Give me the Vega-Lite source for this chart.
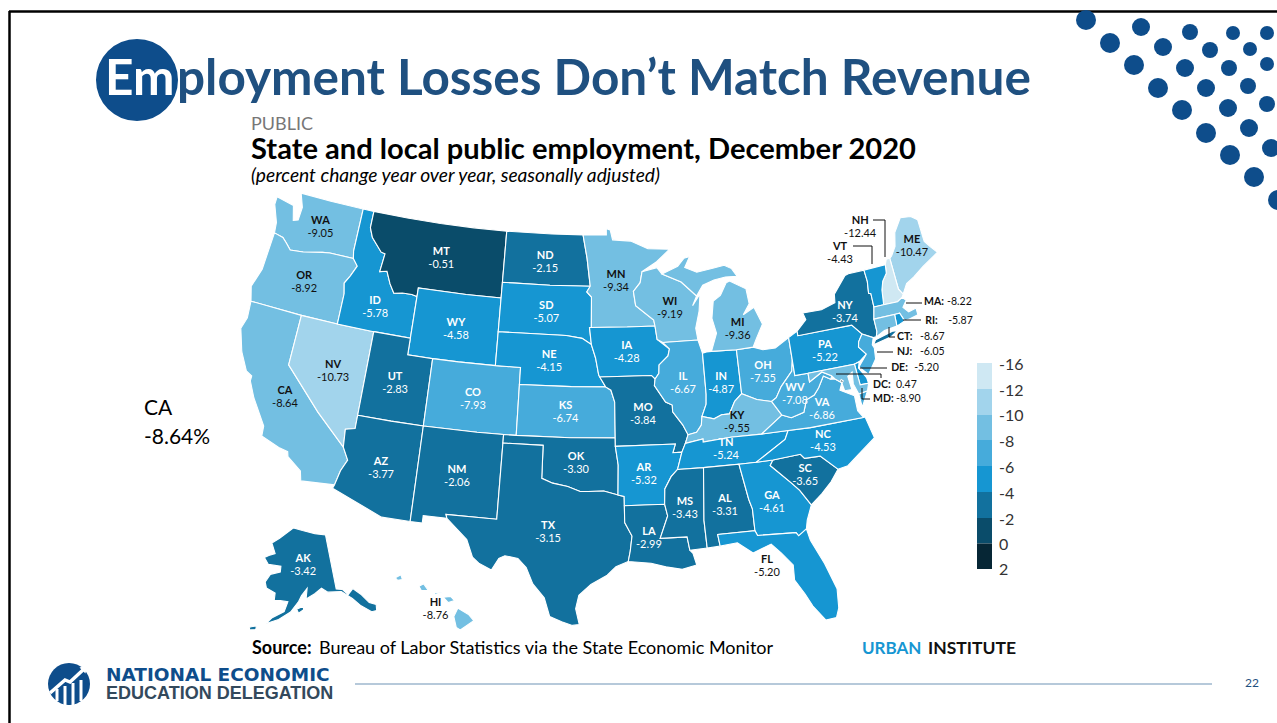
{
"$schema":"https://vega.github.io/schema/vega-lite/v6.json",
"width":1277,"height":723,"padding":0,"autosize":{"type":"none"},
"background":"#ffffff",
"config":{"view":{"stroke":null},"text":{"font":"Lato"}},
"projection":{"type":"albersUsa","scale":966,"translate":[589,409]},
"datasets":{
"states":[
{"state":"WA","value":-9.05,"lon":-120.3,"lat":47.3,"type":"Feature","geometry":{"type":"Polygon","coordinates":[[[-124.7,48.38],[-123.1,48.15],[-122.75,47.3],[-122.35,47.4],[-122.3,48.2],[-122.75,49],[-120,49],[-117.03,49],[-117.04,46.42],[-116.92,45.99],[-118.98,45.99],[-119.6,45.92],[-121.2,45.65],[-122.3,45.55],[-122.8,45.9],[-123.2,46.15],[-124,46.27],[-124.1,46.9],[-124.7,47.9],[-124.7,48.38]]]}},
{"state":"OR","value":-8.92,"lon":-120.45,"lat":43.9,"type":"Feature","geometry":{"type":"Polygon","coordinates":[[[-124,46.27],[-123.2,46.15],[-122.8,45.9],[-122.3,45.55],[-121.2,45.65],[-119.6,45.92],[-118.98,45.99],[-116.92,45.99],[-116.46,45.6],[-116.85,44.95],[-117.22,44.45],[-117.03,43.83],[-117.03,42],[-120,42],[-124.21,42],[-124.55,42.85],[-124.1,44],[-124,46.27]]]}},
{"state":"CA","value":-8.64,"lon":-119.66,"lat":37.1,"type":"Feature","geometry":{"type":"Polygon","coordinates":[[[-124.21,42],[-120,42],[-120,39],[-117,36.7],[-114.63,35],[-114.14,34.3],[-114.5,33.6],[-114.72,32.72],[-117.12,32.53],[-117.3,33.1],[-118.4,33.75],[-118.5,34.03],[-119.2,34.15],[-120.6,34.55],[-120.65,35.15],[-121.9,36.6],[-122.5,37.5],[-122.5,37.8],[-123,38],[-123.75,39],[-124.35,40.3],[-124.1,41],[-124.21,42]]]}},
{"state":"NV","value":-10.73,"lon":-116.54,"lat":39.2,"type":"Feature","geometry":{"type":"Polygon","coordinates":[[[-120,42],[-117.03,42],[-114.04,42],[-114.04,36.2],[-114.74,36.05],[-114.63,35],[-117,36.7],[-120,39],[-120,42]]]}},
{"state":"ID","value":-5.78,"lon":-114.3,"lat":43.4,"type":"Feature","geometry":{"type":"Polygon","coordinates":[[[-117.03,49],[-116.05,49],[-116.05,48],[-115.7,47.45],[-114.7,46.7],[-114.35,46.65],[-114.5,45.55],[-113.9,45.65],[-113.45,44.95],[-113,44.45],[-112.3,44.55],[-111.5,44.55],[-111.05,44.48],[-111.05,42],[-114.04,42],[-117.03,42],[-117.03,43.83],[-117.22,44.45],[-116.85,44.95],[-116.46,45.6],[-116.92,45.99],[-117.04,46.42],[-117.03,49]]]}},
{"state":"MT","value":-0.51,"lon":-109.5,"lat":46.95,"type":"Feature","geometry":{"type":"Polygon","coordinates":[[[-116.05,49],[-113,49],[-110,49],[-107,49],[-104.05,49],[-104.05,45.94],[-104.05,45],[-107,45],[-111.05,45],[-111.05,44.48],[-111.5,44.55],[-112.3,44.55],[-113,44.45],[-113.45,44.95],[-113.9,45.65],[-114.5,45.55],[-114.35,46.65],[-114.7,46.7],[-115.7,47.45],[-116.05,48],[-116.05,49]]]}},
{"state":"WY","value":-4.58,"lon":-107.5,"lat":42.9,"type":"Feature","geometry":{"type":"Polygon","coordinates":[[[-111.05,45],[-107,45],[-104.05,45],[-104.05,43],[-104.05,41],[-107,41],[-109.05,41],[-111.05,41],[-111.05,42],[-111.05,44.48],[-111.05,45]]]}},
{"state":"UT","value":-2.83,"lon":-111.66,"lat":39.2,"type":"Feature","geometry":{"type":"Polygon","coordinates":[[[-114.04,42],[-111.05,42],[-111.05,41],[-109.05,41],[-109.05,37],[-111.5,37],[-114.04,37],[-114.04,42]]]}},
{"state":"CO","value":-7.93,"lon":-105.55,"lat":38.9,"type":"Feature","geometry":{"type":"Polygon","coordinates":[[[-109.05,41],[-107,41],[-104.05,41],[-102.05,41],[-102.05,40],[-102.05,37],[-103,37],[-105,37],[-109.05,37],[-109.05,41]]]}},
{"state":"AZ","value":-3.77,"lon":-111.66,"lat":34.17,"type":"Feature","geometry":{"type":"Polygon","coordinates":[[[-114.04,37],[-111.5,37],[-109.05,37],[-109.05,31.33],[-111.07,31.33],[-114.81,32.5],[-114.72,32.72],[-114.5,33.6],[-114.14,34.3],[-114.63,35],[-114.74,36.05],[-114.04,36.2],[-114.04,37]]]}},
{"state":"NM","value":-2.06,"lon":-106.14,"lat":34.3,"type":"Feature","geometry":{"type":"Polygon","coordinates":[[[-109.05,37],[-105,37],[-103,37],[-103,36.5],[-103.04,32],[-106.62,32],[-106.53,31.78],[-108.2,31.78],[-108.2,31.33],[-109.05,31.33],[-109.05,37]]]}},
{"state":"ND","value":-2.15,"lon":-100.5,"lat":47.3,"type":"Feature","geometry":{"type":"Polygon","coordinates":[[[-104.05,49],[-100,49],[-97.23,49],[-96.85,47.6],[-96.56,45.94],[-100,45.94],[-104.05,45.94],[-104.05,49]]]}},
{"state":"SD","value":-5.07,"lon":-100.2,"lat":44.3,"type":"Feature","geometry":{"type":"Polygon","coordinates":[[[-104.05,45.94],[-100,45.94],[-96.56,45.94],[-96.85,45.6],[-96.45,45.3],[-96.45,43.5],[-96.6,43.5],[-96.44,42.49],[-97.2,42.85],[-98.5,43],[-104.05,43],[-104.05,45],[-104.05,45.94]]]}},
{"state":"NE","value":-4.15,"lon":-99.8,"lat":41.45,"type":"Feature","geometry":{"type":"Polygon","coordinates":[[[-104.05,43],[-98.5,43],[-97.2,42.85],[-96.44,42.49],[-96.1,41.7],[-95.85,40.7],[-95.31,40],[-98,40],[-102.05,40],[-102.05,41],[-104.05,41],[-104.05,43]]]}},
{"state":"KS","value":-6.74,"lon":-98.4,"lat":38.45,"type":"Feature","geometry":{"type":"Polygon","coordinates":[[[-102.05,40],[-98,40],[-95.31,40],[-94.9,39.8],[-94.62,39.1],[-94.62,37],[-98,37],[-102.05,37],[-102.05,40]]]}},
{"state":"OK","value":-3.30,"lon":-97.53,"lat":35.5,"type":"Feature","geometry":{"type":"Polygon","coordinates":[[[-103,37],[-102.05,37],[-98,37],[-94.62,37],[-94.62,36.5],[-94.43,35.4],[-94.48,33.64],[-95.5,33.88],[-96.6,33.85],[-97.2,33.85],[-98.1,34.13],[-99.2,34.3],[-100,34.56],[-100,36.5],[-103,36.5],[-103,37]]]}},
{"state":"TX","value":-3.15,"lon":-99.4,"lat":31.4,"type":"Feature","geometry":{"type":"Polygon","coordinates":[[[-103,36.5],[-100,36.5],[-100,34.56],[-99.2,34.3],[-98.1,34.13],[-97.2,33.85],[-96.6,33.85],[-95.5,33.88],[-94.48,33.64],[-94.04,33.55],[-94.04,33],[-94.04,32],[-93.55,31.2],[-93.7,30.3],[-93.85,29.7],[-94.7,29.4],[-95.3,28.9],[-96.4,28.35],[-97.2,27.7],[-97.4,26.9],[-97.15,25.96],[-97.6,25.9],[-98.3,26.1],[-99.1,26.4],[-99.5,27.5],[-100.3,28.3],[-100.8,29.25],[-101.4,29.77],[-102.3,29.88],[-102.7,29.7],[-103.15,28.98],[-104,29.3],[-104.5,29.65],[-105,30.65],[-106.53,31.78],[-106.62,32],[-103.04,32],[-103,36.5]]]}},
{"state":"MN","value":-9.34,"lon":-94.36,"lat":46.2,"type":"Feature","geometry":{"type":"Polygon","coordinates":[[[-97.23,49],[-95.15,49],[-95.15,49.38],[-94.8,49.3],[-94.6,48.7],[-93,48.6],[-91.5,48.1],[-89.6,48],[-90.8,47.3],[-92.1,46.75],[-92.3,46.1],[-92.9,45.6],[-92.75,44.75],[-91.3,43.85],[-91.22,43.5],[-93.5,43.5],[-96.45,43.5],[-96.45,45.3],[-96.85,45.6],[-96.56,45.94],[-96.85,47.6],[-97.23,49]]]}},
{"state":"IA","value":-4.28,"lon":-93.6,"lat":42.0,"type":"Feature","geometry":{"type":"Polygon","coordinates":[[[-96.6,43.5],[-93.5,43.5],[-91.22,43.5],[-91.1,42.7],[-90.15,42.1],[-90.3,41.7],[-91.05,41.2],[-91.1,40.7],[-91.42,40.38],[-91.7,40.6],[-95.77,40.58],[-95.85,40.7],[-96.1,41.7],[-96.44,42.49],[-96.6,43.5]]]}},
{"state":"MO","value":-3.84,"lon":-92.48,"lat":38.3,"type":"Feature","geometry":{"type":"Polygon","coordinates":[[[-95.77,40.58],[-91.7,40.6],[-91.42,40.38],[-91.5,40],[-90.7,39],[-90.2,38.8],[-90.2,38.4],[-89.5,37.6],[-89.15,37],[-89.4,36.5],[-89.7,36],[-90.37,36],[-90.15,36.5],[-94.62,36.5],[-94.62,37],[-94.62,39.1],[-94.9,39.8],[-95.31,40],[-95.77,40.58]]]}},
{"state":"AR","value":-5.32,"lon":-92.57,"lat":34.8,"type":"Feature","geometry":{"type":"Polygon","coordinates":[[[-94.62,36.5],[-90.15,36.5],[-90.37,36],[-89.7,36],[-90.1,35],[-90.6,34.6],[-91.1,33.9],[-91.17,33],[-94.04,33],[-94.04,33.55],[-94.48,33.64],[-94.43,35.4],[-94.62,36.5]]]}},
{"state":"LA","value":-2.99,"lon":-92.38,"lat":31.05,"type":"Feature","geometry":{"type":"Polygon","coordinates":[[[-94.04,33],[-91.17,33],[-91,32.3],[-91.6,31],[-89.73,31],[-89.6,30.2],[-89.4,30],[-89.2,29.3],[-90.2,29.1],[-91.3,29.3],[-92.3,29.55],[-93.85,29.7],[-93.7,30.3],[-93.55,31.2],[-94.04,32],[-94.04,33]]]}},
{"state":"WI","value":-9.19,"lon":-89.9,"lat":44.5,"type":"Feature","geometry":{"type":"Polygon","coordinates":[[[-92.1,46.75],[-90.8,46.95],[-90.4,46.55],[-88.8,46],[-87.6,45.1],[-88,44.55],[-87.3,45.2],[-87.5,44.2],[-87.9,43.2],[-87.8,42.5],[-90.65,42.5],[-91.1,42.7],[-91.22,43.5],[-91.3,43.85],[-92.75,44.75],[-92.9,45.6],[-92.3,46.1],[-92.1,46.75]]]}},
{"state":"IL","value":-6.67,"lon":-89.26,"lat":40.0,"type":"Feature","geometry":{"type":"Polygon","coordinates":[[[-90.65,42.5],[-87.8,42.5],[-87.53,41.7],[-87.53,39.3],[-87.6,38.7],[-88,38],[-88.1,37.5],[-88.5,37.1],[-89.15,37],[-89.5,37.6],[-90.2,38.4],[-90.2,38.8],[-90.7,39],[-91.5,40],[-91.42,40.38],[-91.1,40.7],[-91.05,41.2],[-90.3,41.7],[-90.15,42.1],[-90.65,42.5]]]}},
{"state":"IN","value":-4.87,"lon":-86.3,"lat":39.8,"type":"Feature","geometry":{"type":"Polygon","coordinates":[[[-87.53,41.7],[-87.2,41.76],[-86.8,41.76],[-84.8,41.7],[-84.8,39.1],[-85.4,38.7],[-85.9,38],[-86.5,38],[-87.1,37.8],[-88,38],[-87.6,38.7],[-87.53,39.3],[-87.53,41.7]]]}},
{"state":"OH","value":-7.55,"lon":-82.94,"lat":40.2,"type":"Feature","geometry":{"type":"Polygon","coordinates":[[[-84.8,41.7],[-83.45,41.73],[-82.7,41.5],[-81.7,41.5],[-80.52,41.98],[-80.52,40.64],[-80.7,40],[-81.7,39.2],[-82.2,38.6],[-82.6,38.42],[-83.7,38.65],[-84.8,39.1],[-84.8,41.7]]]}},
{"state":"MI","value":-9.36,"lon":-84.5,"lat":42.9,"type":"Feature","geometry":{"type":"MultiPolygon","coordinates":[[[[-86.25,44.7],[-85.6,45],[-85,45.7],[-84.7,45.78],[-83.4,45.2],[-83.3,44.3],[-83.9,43.7],[-82.95,44.05],[-82.45,43],[-83.1,42.2],[-83.45,41.73],[-84.8,41.7],[-86.8,41.76],[-86.25,42.8],[-86.5,43.7],[-86.25,44.7]]],[[[-90.4,46.55],[-89,46.95],[-88.4,47.4],[-87.9,47.47],[-88.4,46.85],[-87.4,46.5],[-86,46.65],[-85,46.75],[-84.4,46.5],[-84,46],[-85,46.05],[-86,45.95],[-87,45.7],[-87.6,45.1],[-88.8,46],[-90.4,46.55]]]]}},
{"state":"KY","value":-9.55,"lon":-85.4,"lat":37.46,"type":"Feature","geometry":{"type":"Polygon","coordinates":[[[-89.15,37],[-88.5,37.1],[-88.1,37.5],[-88,38],[-87.1,37.8],[-86.5,38],[-85.9,38],[-85.4,38.7],[-84.8,39.1],[-83.7,38.65],[-82.6,38.42],[-81.97,37.54],[-83.68,36.6],[-86,36.63],[-88.07,36.5],[-88.07,36.68],[-89.4,36.5],[-89.15,37]]]}},
{"state":"TN","value":-5.24,"lon":-86.43,"lat":35.96,"type":"Feature","geometry":{"type":"Polygon","coordinates":[[[-89.7,36],[-89.4,36.5],[-88.07,36.68],[-88.07,36.5],[-86,36.63],[-83.68,36.6],[-81.68,36.59],[-82,36.1],[-84.32,35],[-85.6,35],[-88.2,35],[-90.1,35],[-89.7,36]]]}},
{"state":"MS","value":-3.43,"lon":-89.75,"lat":32.7,"type":"Feature","geometry":{"type":"Polygon","coordinates":[[[-90.1,35],[-88.2,35],[-88.47,31.9],[-88.4,30.25],[-89.6,30.2],[-89.73,31],[-91.6,31],[-91,32.3],[-91.17,33],[-91.1,33.9],[-90.6,34.6],[-90.1,35]]]}},
{"state":"AL","value":-3.31,"lon":-86.9,"lat":32.68,"type":"Feature","geometry":{"type":"Polygon","coordinates":[[[-88.2,35],[-85.6,35],[-85.18,32.87],[-85,32.3],[-85,31],[-87.6,31],[-87.5,30.3],[-88.4,30.25],[-88.47,31.9],[-88.2,35]]]}},
{"state":"GA","value":-4.61,"lon":-83.57,"lat":32.55,"type":"Feature","geometry":{"type":"Polygon","coordinates":[[[-85.6,35],[-84.32,35],[-83.1,35],[-83.35,34.7],[-82,33.5],[-81.5,33],[-80.85,32.05],[-81.3,31.2],[-81.45,30.7],[-82.05,30.36],[-82.2,30.57],[-84.86,30.7],[-85,31],[-85,32.3],[-85.18,32.87],[-85.6,35]]]}},
{"state":"FL","value":-5.20,"lon":-84.47,"lat":28.83,"type":"Feature","geometry":{"type":"Polygon","coordinates":[[[-87.6,31],[-85,31],[-84.86,30.7],[-82.2,30.57],[-82.05,30.36],[-81.45,30.7],[-81.3,30],[-80.6,28.5],[-80.05,26.9],[-80.15,25.75],[-80.4,25.2],[-81.1,25.15],[-81.8,26.1],[-82.2,26.9],[-82.75,27.8],[-82.7,28.7],[-83.4,29.5],[-84,30.1],[-85.3,29.7],[-86.3,30.4],[-87.5,30.3],[-87.6,31]]]}},
{"state":"SC","value":-3.65,"lon":-80.95,"lat":33.85,"type":"Feature","geometry":{"type":"Polygon","coordinates":[[[-83.1,35],[-81.05,35.1],[-80.8,34.82],[-79.65,34.8],[-78.55,33.86],[-79.2,33.2],[-80,32.6],[-80.85,32.05],[-81.5,33],[-82,33.5],[-83.35,34.7],[-83.1,35]]]}},
{"state":"NC","value":-4.53,"lon":-79.26,"lat":35.64,"type":"Feature","geometry":{"type":"Polygon","coordinates":[[[-84.32,35],[-82,36.1],[-81.68,36.59],[-80,36.55],[-76,36.55],[-75.85,36.55],[-75.5,35.25],[-76.5,34.7],[-77.8,33.95],[-78.55,33.86],[-79.65,34.8],[-80.8,34.82],[-81.05,35.1],[-83.1,35],[-84.32,35]]]}},
{"state":"VA","value":-6.86,"lon":-78.91,"lat":37.5,"type":"Feature","geometry":{"type":"MultiPolygon","coordinates":[[[[-83.68,36.6],[-81.97,37.54],[-81.3,37.3],[-80.3,37.5],[-79.95,38.2],[-79.3,38.4],[-78.87,38.77],[-78.35,39.4],[-77.83,39.13],[-77.5,39.1],[-77.05,38.8],[-77.3,38.4],[-76.3,37.9],[-76.3,37],[-75.97,36.55],[-76,36.55],[-80,36.55],[-81.68,36.59],[-83.68,36.6]]],[[[-75.95,37.95],[-75.25,38.03],[-75.9,37.15],[-75.95,37.95]]]]}},
{"state":"WV","value":-7.08,"lon":-80.75,"lat":38.6,"type":"Feature","geometry":{"type":"Polygon","coordinates":[[[-82.6,38.42],[-82.2,38.6],[-81.7,39.2],[-80.7,40],[-80.52,40.64],[-80.52,39.72],[-79.48,39.72],[-79.48,39.2],[-78.4,39.65],[-77.72,39.32],[-77.83,39.13],[-78.35,39.4],[-78.87,38.77],[-79.3,38.4],[-79.95,38.2],[-80.3,37.5],[-81.3,37.3],[-81.97,37.54],[-82.6,38.42]]]}},
{"state":"PA","value":-5.22,"lon":-77.87,"lat":40.77,"type":"Feature","geometry":{"type":"Polygon","coordinates":[[[-80.52,41.98],[-79.76,42.27],[-79.76,42],[-75.35,42],[-74.7,41.36],[-75.1,40.95],[-75.2,40.65],[-74.72,40.15],[-75.4,39.8],[-75.8,39.72],[-79.48,39.72],[-80.52,39.72],[-80.52,40.64],[-80.52,41.98]]]}},
{"state":"NY","value":-3.74,"lon":-75.66,"lat":42.83,"type":"Feature","geometry":{"type":"MultiPolygon","coordinates":[[[[-79.76,42.27],[-78.9,42.85],[-79.05,43.27],[-77.5,43.25],[-76.3,43.5],[-76.2,44],[-75,44.95],[-74.7,45],[-73.35,45],[-73.3,44.3],[-73.43,43.6],[-73.25,43.55],[-73.27,42.74],[-73.5,42.05],[-73.5,41.3],[-73.65,41],[-73.9,41],[-74.7,41.36],[-75.35,42],[-79.76,42],[-79.76,42.27]]],[[[-74,40.58],[-73.75,40.85],[-72.3,41.1],[-71.9,41.05],[-72.5,40.8],[-74,40.58]]]]}},
{"state":"ME","value":-10.47,"lon":-68.93,"lat":45.6,"type":"Feature","geometry":{"type":"Polygon","coordinates":[[[-71,45.3],[-70.8,45.4],[-70.3,45.9],[-70,46.7],[-69.2,47.45],[-68.3,47.35],[-67.8,47.05],[-67.8,45.7],[-67.45,45.3],[-67,44.85],[-68.5,44.3],[-69.5,43.85],[-70.2,43.6],[-70.7,43.05],[-70.97,43.4],[-71,45.3]]]}},
{"state":"NH","value":-12.44,"lon":-72.8,"lat":47.5,"type":"Feature","geometry":{"type":"Polygon","coordinates":[[[-71.5,45],[-71.3,45.3],[-71,45.3],[-70.97,43.4],[-70.7,43.05],[-70.85,42.88],[-71.3,42.7],[-72.46,42.73],[-72.3,43.6],[-72.05,44.1],[-71.6,44.5],[-71.5,45]]]}},
{"state":"VT","value":-4.43,"lon":-75.0,"lat":46.3,"type":"Feature","geometry":{"type":"Polygon","coordinates":[[[-73.35,45],[-71.5,45],[-71.6,44.5],[-72.05,44.1],[-72.3,43.6],[-72.46,42.73],[-73.27,42.74],[-73.25,43.55],[-73.43,43.6],[-73.3,44.3],[-73.35,45]]]}},
{"state":"MA","value":-8.22,"lon":-69.24,"lat":42.26,"callout":true,"type":"Feature","geometry":{"type":"Polygon","coordinates":[[[-73.27,42.74],[-72.46,42.73],[-71.3,42.7],[-70.85,42.88],[-70.6,42.65],[-71,42.3],[-70.65,41.95],[-70,42.05],[-70,41.65],[-70.65,41.55],[-71.15,41.5],[-71.38,42.02],[-71.8,42.02],[-73.5,42.05],[-73.27,42.74]]]}},
{"state":"RI","value":-5.87,"lon":-69.57,"lat":41.2,"callout":true,"type":"Feature","geometry":{"type":"Polygon","coordinates":[[[-71.8,42.02],[-71.38,42.02],[-71.15,41.5],[-71.85,41.32],[-71.8,42.02]]]}},
{"state":"CT","value":-8.67,"lon":-72.06,"lat":40.7,"callout":true,"type":"Feature","geometry":{"type":"Polygon","coordinates":[[[-73.5,42.05],[-71.8,42.02],[-71.85,41.32],[-72.9,41.25],[-73.65,41],[-73.5,41.3],[-73.5,42.05]]]}},
{"state":"NJ","value":-6.05,"lon":-72.36,"lat":39.83,"callout":true,"type":"Feature","geometry":{"type":"Polygon","coordinates":[[[-74.7,41.36],[-73.9,41],[-74.1,40.6],[-74,40.4],[-74.1,39.75],[-74.9,38.95],[-75.5,39.5],[-74.72,40.15],[-75.2,40.65],[-75.1,40.95],[-74.7,41.36]]]}},
{"state":"DE","value":-5.20,"lon":-73.1,"lat":39.0,"callout":true,"type":"Feature","geometry":{"type":"Polygon","coordinates":[[[-75.8,39.72],[-75.4,39.8],[-75.55,39.45],[-75.1,38.8],[-75.05,38.45],[-75.7,38.46],[-75.8,39.72]]]}},
{"state":"MD","value":-8.90,"lon":-74.98,"lat":37.48,"callout":true,"type":"Feature","geometry":{"type":"Polygon","coordinates":[[[-79.48,39.72],[-75.8,39.72],[-75.7,38.46],[-75.05,38.45],[-75.25,38.03],[-75.95,37.95],[-76.2,38.6],[-76.1,39.3],[-76.5,39.1],[-76.4,38.3],[-76.95,38.3],[-77.05,38.8],[-77.5,39.1],[-77.72,39.32],[-78.4,39.65],[-79.48,39.2],[-79.48,39.72]]]}},
{"state":"DC","value":0.47,"lon":-74.75,"lat":38.28,"callout":true,"type":"Feature","geometry":{"type":"Polygon","coordinates":[[[-77.12,38.93],[-77.04,39],[-76.91,38.89],[-77.04,38.79],[-77.12,38.93]]]}},
{"state":"AK","value":-3.42,"lon":-152.2,"lat":64.8,"type":"Feature","geometry":{"type":"MultiPolygon","coordinates":[[[[-168.1,65.6],[-166.5,66.1],[-164,66.6],[-166.2,68.3],[-163,69.3],[-156.6,71.3],[-152,70.85],[-146,70.15],[-141,69.65],[-141,65],[-141,60.3],[-139,60],[-137.5,58.9],[-135.5,59.7],[-133.5,58.4],[-131.8,56.6],[-130,55.9],[-130.5,54.9],[-132,55],[-134.5,56.5],[-136.5,58.1],[-139.5,59.7],[-144,60],[-146,60.8],[-148.5,60],[-151.5,59.2],[-151,61],[-153,59.8],[-154,58.8],[-156.5,57],[-160,55.6],[-163.5,54.7],[-162,55.8],[-158.5,57],[-157.5,58.7],[-160,58.8],[-162,58.7],[-162,60],[-165.2,60.6],[-166,61.6],[-164.6,63],[-161,63.6],[-161,64.6],[-166,64.6],[-168.1,65.6]]],[[[-154.6,57.5],[-152.5,58],[-152.4,57.4],[-154,56.8],[-154.6,57.5]]],[[[-168,53.6],[-166.2,54],[-166.2,53.4],[-168,53.1],[-168,53.6]]]]}},
{"state":"HI","value":-8.76,"lon":-157.2,"lat":20.2,"type":"Feature","geometry":{"type":"MultiPolygon","coordinates":[[[[-156.05,19.75],[-155.8,20.25],[-155.1,19.85],[-154.8,19.5],[-155.65,18.95],[-155.9,19.1],[-156.05,19.75]]],[[[-156.7,20.9],[-156.25,20.95],[-156,20.7],[-156.4,20.58],[-156.7,20.9]]],[[[-157.3,21.2],[-156.75,21.15],[-157.25,21.08],[-157.3,21.2]]],[[[-158.25,21.55],[-157.95,21.7],[-157.65,21.3],[-158.1,21.3],[-158.25,21.55]]],[[[-159.75,22.05],[-159.4,22.23],[-159.3,21.95],[-159.6,21.9],[-159.75,22.05]]]]}}
]
},
"layer":[
{"data":{"values":[{"x1":9,"x2":1277,"y":11.5}]},"mark":{"type":"rule","color":"#000","strokeWidth":2.5},"encoding":{"x":{"field":"x1","type":"quantitative","scale":{"domain":[0,1277]},"axis":null},"x2":{"field":"x2"},"y":{"field":"y","type":"quantitative","scale":{"domain":[0,723],"reverse":true},"axis":null}}},
{"data":{"values":[{"x":9.5,"y1":11,"y2":723}]},"mark":{"type":"rule","color":"#000","strokeWidth":2.5},"encoding":{"x":{"field":"x","type":"quantitative","scale":{"domain":[0,1277]},"axis":null},"y":{"field":"y1","type":"quantitative","scale":{"domain":[0,723],"reverse":true},"axis":null},"y2":{"field":"y2"}}},
{"data":{"values":[{"x":1086,"y":20},{"x":1110,"y":43},{"x":1134,"y":65},{"x":1158,"y":88},{"x":1182,"y":110},{"x":1206,"y":133},{"x":1230,"y":155},{"x":1254,"y":177},{"x":1278,"y":200}]},"mark":{"type":"point","filled":true,"size":400,"color":"#0E4D8B","opacity":1},"encoding":{"x":{"field":"x","type":"quantitative","scale":{"domain":[0,1277]},"axis":null},"y":{"field":"y","type":"quantitative","scale":{"domain":[0,723],"reverse":true},"axis":null}}},
{"data":{"values":[{"x":1141,"y":27},{"x":1163,"y":47},{"x":1185,"y":68},{"x":1206,"y":88},{"x":1228,"y":108},{"x":1249,"y":128},{"x":1271,"y":148}]},"mark":{"type":"point","filled":true,"size":324,"color":"#0E4D8B","opacity":1},"encoding":{"x":{"field":"x","type":"quantitative","scale":{"domain":[0,1277]},"axis":null},"y":{"field":"y","type":"quantitative","scale":{"domain":[0,723],"reverse":true},"axis":null}}},
{"data":{"values":[{"x":1190,"y":32},{"x":1210,"y":50},{"x":1229,"y":68},{"x":1248,"y":86},{"x":1267,"y":104}]},"mark":{"type":"point","filled":true,"size":256,"color":"#0E4D8B","opacity":1},"encoding":{"x":{"field":"x","type":"quantitative","scale":{"domain":[0,1277]},"axis":null},"y":{"field":"y","type":"quantitative","scale":{"domain":[0,723],"reverse":true},"axis":null}}},
{"data":{"values":[{"x":1233,"y":33},{"x":1250,"y":49},{"x":1267,"y":64},{"x":1267,"y":33}]},"mark":{"type":"point","filled":true,"size":196,"color":"#0E4D8B","opacity":1},"encoding":{"x":{"field":"x","type":"quantitative","scale":{"domain":[0,1277]},"axis":null},"y":{"field":"y","type":"quantitative","scale":{"domain":[0,723],"reverse":true},"axis":null}}},
{"data":{"values":[{"x":137,"y":80}]},"mark":{"type":"point","filled":true,"size":6724,"color":"#0E4D8B","opacity":1},"encoding":{"x":{"field":"x","type":"quantitative","scale":{"domain":[0,1277]},"axis":null},"y":{"field":"y","type":"quantitative","scale":{"domain":[0,723],"reverse":true},"axis":null}}},
{"data":{"values":[{"x":105,"y":95,"t":"Em"}]},"mark":{"type":"text","align":"left","baseline":"alphabetic","font":"Lato","fontWeight":700,"fontSize":49.5,"color":"#ffffff"},"encoding":{"x":{"field":"x","type":"quantitative","scale":{"domain":[0,1277]},"axis":null},"y":{"field":"y","type":"quantitative","scale":{"domain":[0,723],"reverse":true},"axis":null},"text":{"field":"t"}}},
{"data":{"values":[{"x":177,"y":95,"t":"ployment Losses Don’t Match Revenue"}]},"mark":{"type":"text","align":"left","baseline":"alphabetic","font":"Lato","fontWeight":700,"fontSize":49.5,"color":"#1F5080"},"encoding":{"x":{"field":"x","type":"quantitative","scale":{"domain":[0,1277]},"axis":null},"y":{"field":"y","type":"quantitative","scale":{"domain":[0,723],"reverse":true},"axis":null},"text":{"field":"t"}}},
{"data":{"values":[{"x":251,"y":129.5,"t":"PUBLIC"}]},"mark":{"type":"text","align":"left","baseline":"alphabetic","font":"Lato","fontSize":18,"color":"#777777"},"encoding":{"x":{"field":"x","type":"quantitative","scale":{"domain":[0,1277]},"axis":null},"y":{"field":"y","type":"quantitative","scale":{"domain":[0,723],"reverse":true},"axis":null},"text":{"field":"t"}}},
{"data":{"values":[{"x":251,"y":159,"t":"State and local public employment, December 2020"}]},"mark":{"type":"text","align":"left","baseline":"alphabetic","font":"Lato","fontWeight":700,"fontSize":29.1,"color":"#000000"},"encoding":{"x":{"field":"x","type":"quantitative","scale":{"domain":[0,1277]},"axis":null},"y":{"field":"y","type":"quantitative","scale":{"domain":[0,723],"reverse":true},"axis":null},"text":{"field":"t"}}},
{"data":{"values":[{"x":251,"y":182,"t":"(percent change year over year, seasonally adjusted)"}]},"mark":{"type":"text","align":"left","baseline":"alphabetic","font":"Lato","fontStyle":"italic","fontSize":19.2,"color":"#000000"},"encoding":{"x":{"field":"x","type":"quantitative","scale":{"domain":[0,1277]},"axis":null},"y":{"field":"y","type":"quantitative","scale":{"domain":[0,723],"reverse":true},"axis":null},"text":{"field":"t"}}},
{"data":{"values":[{"x":144,"y":415,"t":"CA"},{"x":144,"y":444,"t":"-8.64%"}]},"mark":{"type":"text","align":"left","baseline":"alphabetic","font":"Lato","fontSize":21,"color":"#000000"},"encoding":{"x":{"field":"x","type":"quantitative","scale":{"domain":[0,1277]},"axis":null},"y":{"field":"y","type":"quantitative","scale":{"domain":[0,723],"reverse":true},"axis":null},"text":{"field":"t"}}},
{"data":{"name":"states"},"mark":{"type":"geoshape","stroke":"#ffffff","strokeWidth":1.1},"encoding":{"color":{"field":"value","type":"quantitative","legend":null,"scale":{"type":"threshold","domain":[-12,-10,-8,-6,-4,-2,0],"range":["#CFE8F3","#A2D4EC","#73BFE2","#46ABDB","#1696D2","#12719E","#0A4C6A","#062635"]}}}},
{"data":{"name":"states"},"transform":[{"filter":"!datum.callout"}],"mark":{"type":"text","font":"Lato","fontWeight":700,"fontSize":11,"dy":-6.5},"encoding":{"longitude":{"field":"lon","type":"quantitative"},"latitude":{"field":"lat","type":"quantitative"},"text":{"field":"state"},"color":{"condition":{"test":"datum.value<-8||datum.state=='FL'||datum.state=='VT'","value":"#111111"},"value":"#ffffff"}}},
{"data":{"name":"states"},"transform":[{"filter":"!datum.callout"},{"calculate":"replace(format(datum.value,'.2f'),'−','-')","as":"vt"}],"mark":{"type":"text","font":"Lato","fontSize":11,"dy":6.5},"encoding":{"longitude":{"field":"lon","type":"quantitative"},"latitude":{"field":"lat","type":"quantitative"},"text":{"field":"vt"},"color":{"condition":{"test":"datum.value<-8||datum.state=='FL'||datum.state=='VT'","value":"#111111"},"value":"#ffffff"}}},
{"data":{"name":"states"},"transform":[{"filter":"datum.callout"},{"calculate":"datum.state+':'","as":"lab"}],"mark":{"type":"text","font":"Lato","fontWeight":700,"fontSize":10.5,"align":"left","color":"#111111"},"encoding":{"longitude":{"field":"lon","type":"quantitative"},"latitude":{"field":"lat","type":"quantitative"},"text":{"field":"lab"}}},
{"data":{"name":"states"},"transform":[{"filter":"datum.callout"},{"calculate":"replace(format(datum.value,'.2f'),'−','-')","as":"vt"}],"mark":{"type":"text","font":"Lato","fontSize":10.5,"align":"left","dx":23,"color":"#111111"},"encoding":{"longitude":{"field":"lon","type":"quantitative"},"latitude":{"field":"lat","type":"quantitative"},"text":{"field":"vt"}}},
{"data":{"values":[{"k":"NH","o":1,"x":873,"y":220},{"k":"NH","o":2,"x":885,"y":220},{"k":"NH","o":3,"x":885,"y":257},{"k":"VT","o":1,"x":853,"y":246},{"k":"VT","o":2,"x":872,"y":246},{"k":"VT","o":3,"x":872,"y":264},{"k":"MA","o":1,"x":906,"y":303},{"k":"MA","o":2,"x":922,"y":303},{"k":"RI","o":1,"x":903,"y":320},{"k":"RI","o":2,"x":921,"y":320},{"k":"CT","o":1,"x":889,"y":327},{"k":"CT","o":2,"x":889,"y":337},{"k":"CT","o":3,"x":895,"y":337},{"k":"NJ","o":1,"x":877,"y":352},{"k":"NJ","o":2,"x":893,"y":352},{"k":"DE","o":1,"x":860,"y":368},{"k":"DE","o":2,"x":887,"y":368},{"k":"DC","o":1,"x":836,"y":374},{"k":"DC","o":2,"x":881,"y":374},{"k":"DC","o":3,"x":881,"y":378},{"k":"MD","o":1,"x":862,"y":388},{"k":"MD","o":2,"x":862,"y":399},{"k":"MD","o":3,"x":870,"y":399}]},"mark":{"type":"line","color":"#111111","strokeWidth":1},"encoding":{"x":{"field":"x","type":"quantitative","scale":{"domain":[0,1277]},"axis":null},"y":{"field":"y","type":"quantitative","scale":{"domain":[0,723],"reverse":true},"axis":null},"detail":{"field":"k"},"order":{"field":"o"}}},
{"data":{"values":[{"v":-14,"x1":977,"x2":992,"y1":363,"y2":389},{"v":-11,"x1":977,"x2":992,"y1":389,"y2":414.5},{"v":-9,"x1":977,"x2":992,"y1":414.5,"y2":440},{"v":-7,"x1":977,"x2":992,"y1":440,"y2":466},{"v":-5,"x1":977,"x2":992,"y1":466,"y2":492},{"v":-3,"x1":977,"x2":992,"y1":492,"y2":518},{"v":-1,"x1":977,"x2":992,"y1":518,"y2":543.5},{"v":1,"x1":977,"x2":992,"y1":543.5,"y2":569}]},"mark":{"type":"rect"},"encoding":{"x":{"field":"x1","type":"quantitative","scale":{"domain":[0,1277]},"axis":null},"x2":{"field":"x2"},"y":{"field":"y1","type":"quantitative","scale":{"domain":[0,723],"reverse":true},"axis":null},"y2":{"field":"y2"},"color":{"field":"v","type":"quantitative","legend":null,"scale":{"type":"threshold","domain":[-12,-10,-8,-6,-4,-2,0],"range":["#CFE8F3","#A2D4EC","#73BFE2","#46ABDB","#1696D2","#12719E","#0A4C6A","#062635"]}}}},
{"data":{"values":[{"x":999,"y":365,"t":"-16"},{"x":999,"y":391,"t":"-12"},{"x":999,"y":416,"t":"-10"},{"x":999,"y":442,"t":"-8"},{"x":999,"y":468,"t":"-6"},{"x":999,"y":494,"t":"-4"},{"x":999,"y":520,"t":"-2"},{"x":999,"y":545,"t":"0"},{"x":999,"y":570,"t":"2"}]},"mark":{"type":"text","align":"left","baseline":"middle","font":"Lato","fontSize":16,"color":"#333333"},"encoding":{"x":{"field":"x","type":"quantitative","scale":{"domain":[0,1277]},"axis":null},"y":{"field":"y","type":"quantitative","scale":{"domain":[0,723],"reverse":true},"axis":null},"text":{"field":"t"}}},
{"data":{"values":[{"x":252,"y":654,"t":"Source:"}]},"mark":{"type":"text","align":"left","baseline":"alphabetic","font":"Lato","fontWeight":700,"fontSize":18,"color":"#000000"},"encoding":{"x":{"field":"x","type":"quantitative","scale":{"domain":[0,1277]},"axis":null},"y":{"field":"y","type":"quantitative","scale":{"domain":[0,723],"reverse":true},"axis":null},"text":{"field":"t"}}},
{"data":{"values":[{"x":319,"y":654,"t":"Bureau of Labor Statistics via the State Economic Monitor"}]},"mark":{"type":"text","align":"left","baseline":"alphabetic","font":"Lato","fontSize":18,"color":"#000000"},"encoding":{"x":{"field":"x","type":"quantitative","scale":{"domain":[0,1277]},"axis":null},"y":{"field":"y","type":"quantitative","scale":{"domain":[0,723],"reverse":true},"axis":null},"text":{"field":"t"}}},
{"data":{"values":[{"x":862,"y":654,"t":"URBAN"}]},"mark":{"type":"text","align":"left","baseline":"alphabetic","font":"Lato","fontWeight":700,"fontSize":17,"color":"#1696D2"},"encoding":{"x":{"field":"x","type":"quantitative","scale":{"domain":[0,1277]},"axis":null},"y":{"field":"y","type":"quantitative","scale":{"domain":[0,723],"reverse":true},"axis":null},"text":{"field":"t"}}},
{"data":{"values":[{"x":928,"y":654,"t":"INSTITUTE"}]},"mark":{"type":"text","align":"left","baseline":"alphabetic","font":"Lato","fontWeight":700,"fontSize":17.5,"color":"#111111"},"encoding":{"x":{"field":"x","type":"quantitative","scale":{"domain":[0,1277]},"axis":null},"y":{"field":"y","type":"quantitative","scale":{"domain":[0,723],"reverse":true},"axis":null},"text":{"field":"t"}}},
{"data":{"values":[{"x":69,"y":684}]},"mark":{"type":"point","filled":true,"size":1764,"color":"#0E4D8B","opacity":1},"encoding":{"x":{"field":"x","type":"quantitative","scale":{"domain":[0,1277]},"axis":null},"y":{"field":"y","type":"quantitative","scale":{"domain":[0,723],"reverse":true},"axis":null}}},
{"data":{"values":[{"x":57,"y1":689,"y2":701},{"x":65,"y1":686,"y2":705},{"x":73,"y1":683,"y2":705},{"x":81,"y1":680,"y2":701}]},"mark":{"type":"rule","color":"#ffffff","strokeWidth":3},"encoding":{"x":{"field":"x","type":"quantitative","scale":{"domain":[0,1277]},"axis":null},"y":{"field":"y1","type":"quantitative","scale":{"domain":[0,723],"reverse":true},"axis":null},"y2":{"field":"y2"}}},
{"data":{"values":[{"o":1,"x":50,"y":693},{"o":2,"x":65,"y":680},{"o":3,"x":70,"y":682},{"o":4,"x":84,"y":669}]},"mark":{"type":"line","color":"#ffffff","strokeWidth":3.5},"encoding":{"x":{"field":"x","type":"quantitative","scale":{"domain":[0,1277]},"axis":null},"y":{"field":"y","type":"quantitative","scale":{"domain":[0,723],"reverse":true},"axis":null},"order":{"field":"o"}}},
{"data":{"values":[{"x":85,"y":668}]},"mark":{"type":"point","filled":true,"shape":"triangle-up","angle":45,"size":70,"color":"#ffffff","opacity":1},"encoding":{"x":{"field":"x","type":"quantitative","scale":{"domain":[0,1277]},"axis":null},"y":{"field":"y","type":"quantitative","scale":{"domain":[0,723],"reverse":true},"axis":null}}},
{"data":{"values":[{"x":106,"y":680.5,"t":"NATIONAL ECONOMIC"}]},"mark":{"type":"text","align":"left","baseline":"alphabetic","font":"DejaVu Sans","fontWeight":700,"fontSize":18.5,"color":"#0E4D8B"},"encoding":{"x":{"field":"x","type":"quantitative","scale":{"domain":[0,1277]},"axis":null},"y":{"field":"y","type":"quantitative","scale":{"domain":[0,723],"reverse":true},"axis":null},"text":{"field":"t"}}},
{"data":{"values":[{"x":106,"y":698.5,"t":"EDUCATION DELEGATION"}]},"mark":{"type":"text","align":"left","baseline":"alphabetic","font":"Liberation Sans","fontWeight":700,"fontSize":18,"color":"#33495C"},"encoding":{"x":{"field":"x","type":"quantitative","scale":{"domain":[0,1277]},"axis":null},"y":{"field":"y","type":"quantitative","scale":{"domain":[0,723],"reverse":true},"axis":null},"text":{"field":"t"}}},
{"data":{"values":[{"x1":355,"x2":1212,"y":684}]},"mark":{"type":"rule","color":"#6F94B5","strokeWidth":1.2},"encoding":{"x":{"field":"x1","type":"quantitative","scale":{"domain":[0,1277]},"axis":null},"x2":{"field":"x2"},"y":{"field":"y","type":"quantitative","scale":{"domain":[0,723],"reverse":true},"axis":null}}},
{"data":{"values":[{"x":1252,"y":683,"t":"22"}]},"mark":{"type":"text","baseline":"middle","font":"Lato","fontSize":12,"color":"#1F5080"},"encoding":{"x":{"field":"x","type":"quantitative","scale":{"domain":[0,1277]},"axis":null},"y":{"field":"y","type":"quantitative","scale":{"domain":[0,723],"reverse":true},"axis":null},"text":{"field":"t"}}}
]
}
